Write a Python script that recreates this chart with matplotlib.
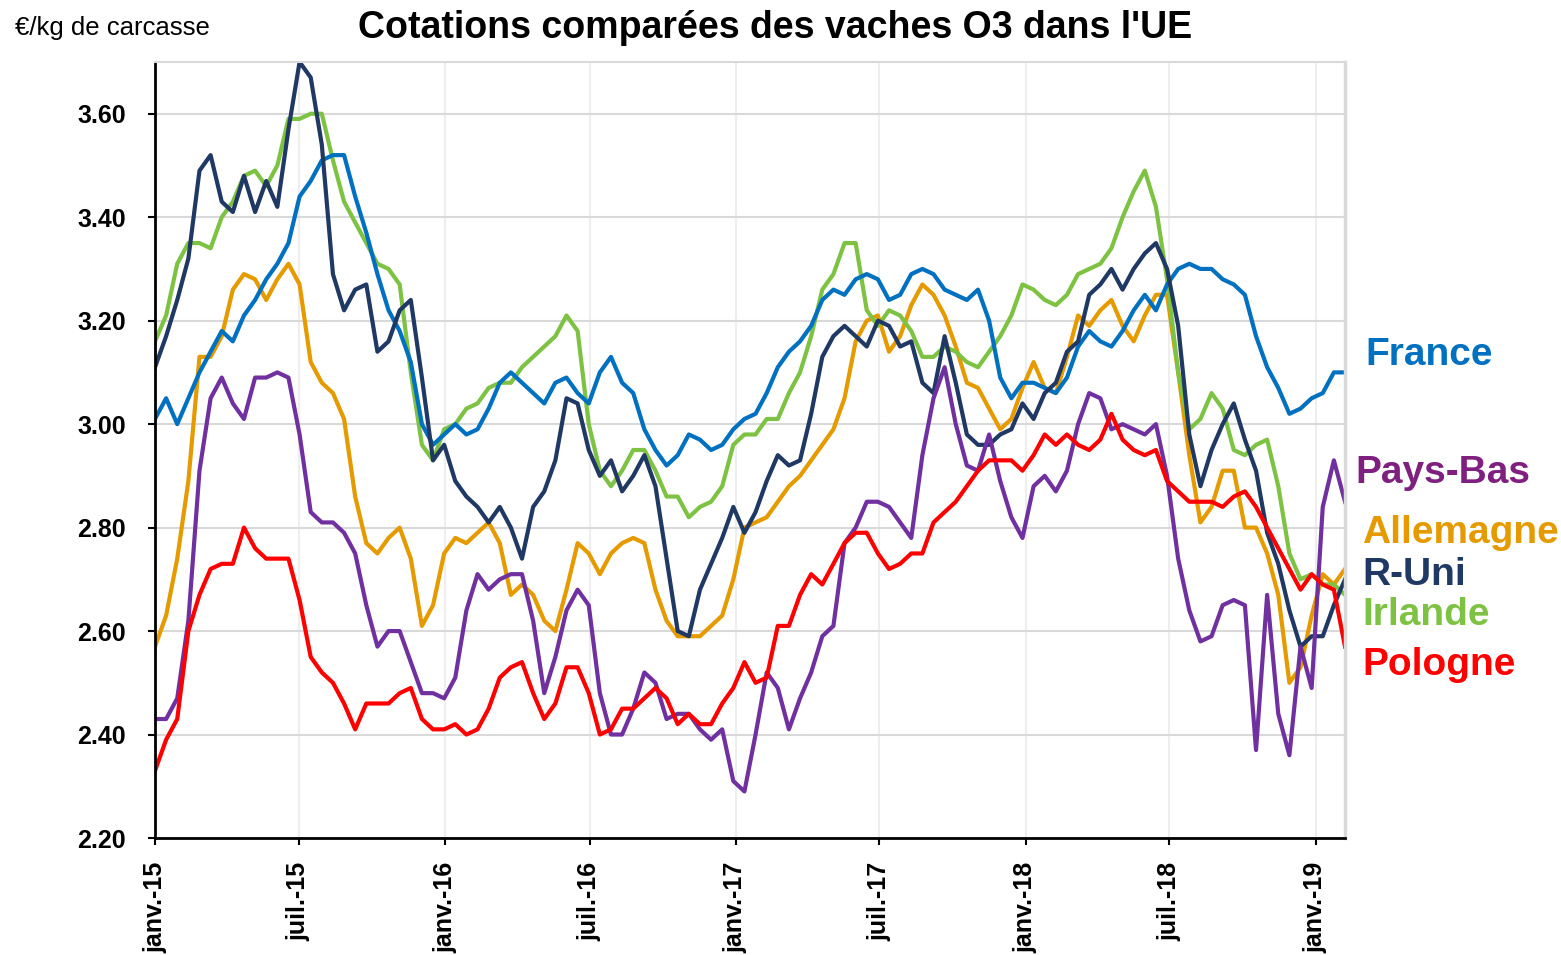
import matplotlib
matplotlib.use("Agg")
import matplotlib.pyplot as plt
import numpy as np
import pandas as pd

# fortnightly quotations, EUR/kg carcass
dates = pd.date_range("2015-01-01", periods=108, freq="14D")

france = [3.01, 3.05, 3.00, 3.05, 3.10, 3.14, 3.18, 3.16, 3.21, 3.24, 3.28, 3.31, 3.35, 3.44, 3.47, 3.51, 3.52, 3.52,
          3.44, 3.37, 3.29, 3.22, 3.18, 3.12, 3.00, 2.96, 2.98, 3.00, 2.98, 2.99, 3.03, 3.08, 3.10, 3.08, 3.06, 3.04,
          3.08, 3.09, 3.06, 3.04, 3.10, 3.13, 3.08, 3.06, 2.99, 2.95, 2.92, 2.94, 2.98, 2.97, 2.95, 2.96, 2.99, 3.01,
          3.02, 3.06, 3.11, 3.14, 3.16, 3.19, 3.24, 3.26, 3.25, 3.28, 3.29, 3.28, 3.24, 3.25, 3.29, 3.30, 3.29, 3.26,
          3.25, 3.24, 3.26, 3.20, 3.09, 3.05, 3.08, 3.08, 3.07, 3.06, 3.09, 3.15, 3.18, 3.16, 3.15, 3.18, 3.22, 3.25,
          3.22, 3.27, 3.30, 3.31, 3.30, 3.30, 3.28, 3.27, 3.25, 3.17, 3.11, 3.07, 3.02, 3.03, 3.05, 3.06, 3.10, 3.10]

r_uni = [3.11, 3.17, 3.24, 3.32, 3.49, 3.52, 3.43, 3.41, 3.48, 3.41, 3.47, 3.42, 3.57, 3.70, 3.67, 3.54, 3.29, 3.22,
         3.26, 3.27, 3.14, 3.16, 3.22, 3.24, 3.09, 2.93, 2.96, 2.89, 2.86, 2.84, 2.81, 2.84, 2.80, 2.74, 2.84, 2.87,
         2.93, 3.05, 3.04, 2.95, 2.90, 2.93, 2.87, 2.90, 2.94, 2.88, 2.74, 2.60, 2.59, 2.68, 2.73, 2.78, 2.84, 2.79,
         2.83, 2.89, 2.94, 2.92, 2.93, 3.02, 3.13, 3.17, 3.19, 3.17, 3.15, 3.20, 3.19, 3.15, 3.16, 3.08, 3.06, 3.17,
         3.08, 2.98, 2.96, 2.96, 2.98, 2.99, 3.04, 3.01, 3.06, 3.08, 3.14, 3.16, 3.25, 3.27, 3.30, 3.26, 3.30, 3.33,
         3.35, 3.30, 3.19, 2.98, 2.88, 2.95, 3.00, 3.04, 2.97, 2.91, 2.79, 2.73, 2.64, 2.57, 2.59, 2.59, 2.65, 2.70]

irlande = [3.16, 3.21, 3.31, 3.35, 3.35, 3.34, 3.40, 3.43, 3.48, 3.49, 3.46, 3.50, 3.59, 3.59, 3.60, 3.60, 3.51, 3.43,
           3.39, 3.35, 3.31, 3.30, 3.27, 3.10, 2.96, 2.93, 2.99, 3.00, 3.03, 3.04, 3.07, 3.08, 3.08, 3.11, 3.13, 3.15,
           3.17, 3.21, 3.18, 3.00, 2.91, 2.88, 2.91, 2.95, 2.95, 2.91, 2.86, 2.86, 2.82, 2.84, 2.85, 2.88, 2.96, 2.98,
           2.98, 3.01, 3.01, 3.06, 3.10, 3.17, 3.26, 3.29, 3.35, 3.35, 3.22, 3.19, 3.22, 3.21, 3.18, 3.13, 3.13, 3.15,
           3.14, 3.12, 3.11, 3.14, 3.17, 3.21, 3.27, 3.26, 3.24, 3.23, 3.25, 3.29, 3.30, 3.31, 3.34, 3.40, 3.45, 3.49,
           3.42, 3.28, 3.10, 2.99, 3.01, 3.06, 3.03, 2.95, 2.94, 2.96, 2.97, 2.88, 2.75, 2.70, 2.71, 2.69, 2.69, 2.67]

allemagne = [2.57, 2.63, 2.74, 2.89, 3.13, 3.13, 3.17, 3.26, 3.29, 3.28, 3.24, 3.28, 3.31, 3.27, 3.12, 3.08, 3.06, 3.01,
             2.86, 2.77, 2.75, 2.78, 2.80, 2.74, 2.61, 2.65, 2.75, 2.78, 2.77, 2.79, 2.81, 2.77, 2.67, 2.69, 2.67, 2.62,
             2.60, 2.68, 2.77, 2.75, 2.71, 2.75, 2.77, 2.78, 2.77, 2.68, 2.62, 2.59, 2.59, 2.59, 2.61, 2.63, 2.70, 2.80,
             2.81, 2.82, 2.85, 2.88, 2.90, 2.93, 2.96, 2.99, 3.05, 3.16, 3.20, 3.21, 3.14, 3.17, 3.23, 3.27, 3.25, 3.21,
             3.15, 3.08, 3.07, 3.03, 2.99, 3.01, 3.07, 3.12, 3.07, 3.06, 3.13, 3.21, 3.19, 3.22, 3.24, 3.19, 3.16, 3.21,
             3.25, 3.25, 3.10, 2.94, 2.81, 2.84, 2.91, 2.91, 2.80, 2.80, 2.75, 2.67, 2.50, 2.53, 2.63, 2.71, 2.69, 2.72]

pays_bas = [2.43, 2.43, 2.47, 2.62, 2.91, 3.05, 3.09, 3.04, 3.01, 3.09, 3.09, 3.10, 3.09, 2.98, 2.83, 2.81, 2.81, 2.79,
            2.75, 2.65, 2.57, 2.60, 2.60, 2.54, 2.48, 2.48, 2.47, 2.51, 2.64, 2.71, 2.68, 2.70, 2.71, 2.71, 2.62, 2.48,
            2.55, 2.64, 2.68, 2.65, 2.48, 2.40, 2.40, 2.45, 2.52, 2.50, 2.43, 2.44, 2.44, 2.41, 2.39, 2.41, 2.31, 2.29,
            2.40, 2.52, 2.49, 2.41, 2.47, 2.52, 2.59, 2.61, 2.77, 2.80, 2.85, 2.85, 2.84, 2.81, 2.78, 2.94, 3.05, 3.11,
            3.00, 2.92, 2.91, 2.98, 2.89, 2.82, 2.78, 2.88, 2.90, 2.87, 2.91, 3.00, 3.06, 3.05, 2.99, 3.00, 2.99, 2.98,
            3.00, 2.90, 2.74, 2.64, 2.58, 2.59, 2.65, 2.66, 2.65, 2.37, 2.67, 2.44, 2.36, 2.57, 2.49, 2.84, 2.93, 2.85]

pologne = [2.33, 2.39, 2.43, 2.60, 2.67, 2.72, 2.73, 2.73, 2.80, 2.76, 2.74, 2.74, 2.74, 2.66, 2.55, 2.52, 2.50, 2.46,
           2.41, 2.46, 2.46, 2.46, 2.48, 2.49, 2.43, 2.41, 2.41, 2.42, 2.40, 2.41, 2.45, 2.51, 2.53, 2.54, 2.48, 2.43,
           2.46, 2.53, 2.53, 2.48, 2.40, 2.41, 2.45, 2.45, 2.47, 2.49, 2.47, 2.42, 2.44, 2.42, 2.42, 2.46, 2.49, 2.54,
           2.50, 2.51, 2.61, 2.61, 2.67, 2.71, 2.69, 2.73, 2.77, 2.79, 2.79, 2.75, 2.72, 2.73, 2.75, 2.75, 2.81, 2.83,
           2.85, 2.88, 2.91, 2.93, 2.93, 2.93, 2.91, 2.94, 2.98, 2.96, 2.98, 2.96, 2.95, 2.97, 3.02, 2.97, 2.95, 2.94,
           2.95, 2.89, 2.87, 2.85, 2.85, 2.85, 2.84, 2.86, 2.87, 2.84, 2.80, 2.76, 2.72, 2.68, 2.71, 2.69, 2.68, 2.57]

series = [
    ("Allemagne", allemagne, "#E59B00"),
    ("Irlande", irlande, "#7DC242"),
    ("France", france, "#0070C0"),
    ("R-Uni", r_uni, "#1F3864"),
    ("Pays-Bas", pays_bas, "#7030A0"),
    ("Pologne", pologne, "#FF0000"),
]

# end-of-line labels: name, colour, (x px, y px)
end_labels = [
    ("France", "#0070C0", 1365, 355),
    ("Pays-Bas", "#7F1F7F", 1355, 473),
    ("Allemagne", "#E59B00", 1362, 533),
    ("R-Uni", "#1F3864", 1362, 575),
    ("Irlande", "#7DC242", 1362, 615),
    ("Pologne", "#FF0000", 1362, 665),
]

tick_dates = pd.date_range("2015-01-01", "2019-01-01", freq="6MS")
tick_labels = ["janv.-15", "juil.-15", "janv.-16", "juil.-16", "janv.-17",
               "juil.-17", "janv.-18", "juil.-18", "janv.-19"]

W, H = 1561, 955
plt.rcParams["font.family"] = ["Liberation Sans", "DejaVu Sans"]
fig = plt.figure(figsize=(W / 100, H / 100), dpi=100)
ax = fig.add_axes([155 / W, 1 - 838 / H, (1345 - 155) / W, (838 - 62) / H])

for name, vals, col in series:
    ax.plot(dates, vals, color=col, lw=3.0, solid_joinstyle="round")

ax.set_xlim(dates[0], dates[-1])
ax.set_ylim(2.2, 3.7)
ax.set_yticks(np.arange(2.2, 3.61, 0.2))
ax.yaxis.set_major_formatter(matplotlib.ticker.FormatStrFormatter("%.2f"))
ax.set_xticks(tick_dates)
ax.set_xticklabels(tick_labels, rotation=90)

ax.grid(axis="y", color="#D9D9D9", lw=1.5)
ax.grid(axis="x", color="#EEEEEE", lw=1.5)
ax.set_axisbelow(True)

for s in ["left", "bottom"]:
    ax.spines[s].set_color("black")
    ax.spines[s].set_linewidth(2)
ax.spines["top"].set_color("#D9D9D9")
ax.spines["top"].set_linewidth(1.5)
ax.spines["right"].set_color("#D9D9D9")
ax.spines["right"].set_linewidth(2.5)

ax.tick_params(axis="both", direction="out", length=5, width=1.5, colors="black",
               labelsize=18)
ax.tick_params(axis="y", pad=16)
ax.tick_params(axis="x", pad=12)
for lab in ax.get_xticklabels() + ax.get_yticklabels():
    lab.set_fontweight("bold")

fig.text(775 / W, 1 - 28 / H, "Cotations comparées des vaches O3 dans l'UE",
         ha="center", va="center", fontsize=27, fontweight="bold")
fig.text(15 / W, 1 - 28 / H, "€/kg de carcasse", ha="left", va="center", fontsize=18.5)

for name, col, px, py in end_labels:
    fig.text(px / W, 1 - py / H, name, color=col, ha="left", va="center",
             fontsize=28, fontweight="bold")

fig.savefig("out.png", dpi=100)
